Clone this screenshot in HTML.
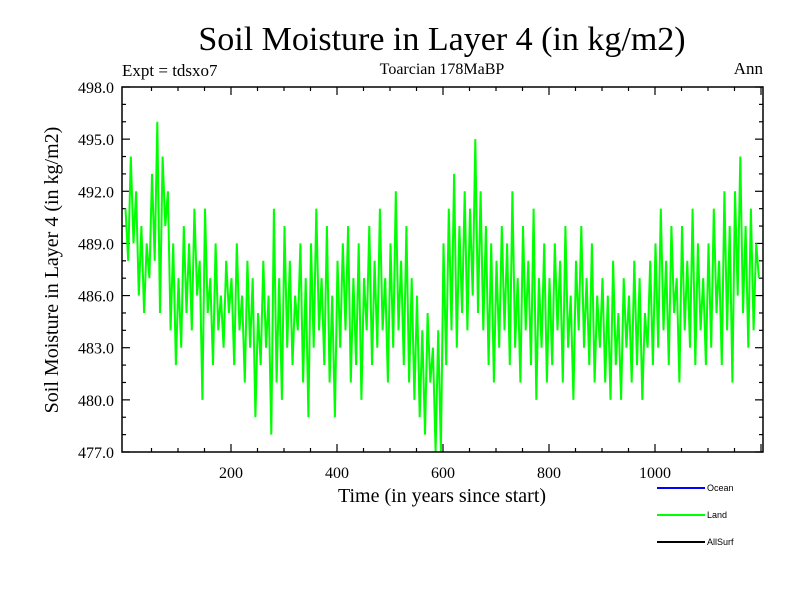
<!DOCTYPE html>
<html><head><meta charset="utf-8"><style>
body{margin:0;background:#fff}
svg{display:block;font-family:"Liberation Serif",serif}
</style></head><body>
<svg id="chart" width="800" height="600">
<text x="442" y="50" font-size="34" text-anchor="middle">Soil Moisture in Layer 4 (in kg/m2)</text>
<text x="122" y="76" font-size="17">Expt = tdsxo7</text>
<text x="442" y="74" font-size="16" text-anchor="middle">Toarcian 178MaBP</text>
<text x="763" y="74" font-size="17" text-anchor="end">Ann</text>
<text x="442" y="502" font-size="20" text-anchor="middle">Time (in years since start)</text>
<text transform="translate(58,270) rotate(-90)" font-size="20" text-anchor="middle">Soil Moisture in Layer 4 (in kg/m2)</text>
<g id="ticks"></g>
<g id="series"></g>
<rect x="122" y="87" width="641" height="365" fill="none" stroke="#000" stroke-width="1.5"/>
<g font-family="Liberation Sans, sans-serif" font-size="9">
<g><line x1="657" y1="488" x2="705" y2="488" stroke="#0000ff" stroke-width="2"/><text x="707" y="491">Ocean</text></g>
<g><line x1="657" y1="515" x2="705" y2="515" stroke="#00ff00" stroke-width="2"/><text x="707" y="518">Land</text></g>
<g><line x1="657" y1="542" x2="705" y2="542" stroke="#000" stroke-width="2"/><text x="707" y="545">AllSurf</text></g>
</g>
</svg>
<script>
const yTickLabels=["477.0","480.0","483.0","486.0","489.0","492.0","495.0","498.0"];
const xTickLabels=["200","400","600","800","1000"];
const landStep=5;
const landValues=[
491,488,494,489,492,486,490,485,489,487,
493,488,496,485,494,490,492,484,489,482,
487,483,490,485,489,484,491,486,488,480,
491,485,487,482,489,484,486,483,488,485,
487,482,489,484,486,481,488,483,487,479,
485,482,488,483,486,478,491,481,487,480,
490,483,488,482,486,484,489,481,487,479,
489,483,491,484,487,482,490,481,486,479,
488,483,489,484,490,481,487,482,489,480,
487,484,490,482,488,483,491,484,487,481,
489,483,492,484,488,482,490,481,487,480,
486,479,484,478,485,481,483,477,484,477,
489,482,491,484,493,483,490,485,492,484,
491,486,495,485,492,484,490,482,489,481,
488,483,490,484,489,482,492,483,487,481,
490,484,488,482,491,480,487,483,489,481,
487,482,489,484,488,481,490,483,486,480,
488,484,490,483,487,482,489,481,486,483,
487,481,486,480,488,482,485,480,487,483,
486,481,488,482,487,480,485,483,488,482,
489,483,491,484,488,482,490,485,487,481,
490,484,488,483,491,482,489,484,487,482,
489,483,491,485,488,482,492,484,490,481,
492,486,494,485,490,483,491,484,489,487];
const NS="http://www.w3.org/2000/svg";
const X0=125,XS=0.53,Y0=452,YS=365/21;
const xs=v=>X0+v*XS, ys=v=>Y0-(v-477)*YS;
const tg=document.getElementById('ticks');
function ln(x1,y1,x2,y2,name){const l=document.createElementNS(NS,'line');
l.setAttribute('x1',x1);l.setAttribute('y1',y1);l.setAttribute('x2',x2);l.setAttribute('y2',y2);
l.setAttribute('stroke','#000');l.setAttribute('stroke-width','1.2');


tg.appendChild(l);}
function tx(x,y,s,anchor,name){const t=document.createElementNS(NS,'text');
t.setAttribute('x',x);t.setAttribute('y',y);t.setAttribute('font-size','16');t.setAttribute('text-anchor',anchor);t.textContent=s;


tg.appendChild(t);}
for(let v=477;v<=498;v++){const y=ys(v);const maj=(v-477)%3===0;const L=maj?8:4;
ln(122,y,122+L,y,'y-tick');ln(763,y,763-L,y,'y-tick-right');}
yTickLabels.forEach(s=>{tx(114,ys(parseFloat(s))+6,s,'end','y-tick-label');});
for(let v=50;v<=1200;v+=50){const x=xs(v);if(x>763)break;const maj=v%200===0;const L=maj?8:4;
ln(x,452,x,452-L,'x-tick');ln(x,87,x,87+L,'x-tick-top');}
xTickLabels.forEach(s=>{tx(xs(+s),478,s,'middle','x-tick-label');});
const pts=landValues.map((v,i)=>xs(1+i*landStep).toFixed(1)+','+ys(v).toFixed(1)).join(' ');
const pl=document.createElementNS(NS,'polyline');
pl.setAttribute('points',pts);pl.setAttribute('fill','none');pl.setAttribute('stroke','#00ff00');pl.setAttribute('stroke-width','2');


document.getElementById('series').appendChild(pl);
</script>
</body></html>
